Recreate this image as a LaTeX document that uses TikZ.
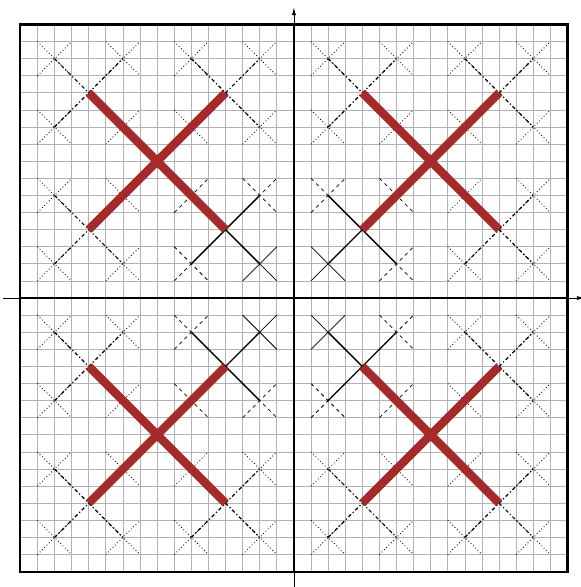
\documentclass[tikz,border=0pt]{standalone}
\usetikzlibrary{arrows.meta}
\definecolor{xred}{RGB}{165,42,42}
\newcommand\drawX[4]{%
  \draw[#4] (#1-#3,#2-#3) -- (#1+#3,#2+#3);
  \draw[#4] (#1-#3,#2+#3) -- (#1+#3,#2-#3);}
\begin{document}
\begin{tikzpicture}[x=0.5cm,y=0.5cm,
  gridline/.style={gray!60,line width=0.6pt},
  frameline/.style={black,line width=1.8pt},
  axisline/.style={black,line width=0.6pt,-{Latex[length=6.5pt,width=3.4pt]}},
  redx/.style={xred,line width=7pt},
  solidmid/.style={black,line width=1.1pt},
  solidthin/.style={black,line width=0.6pt},
  dashedthin/.style={black,line width=0.6pt,dashed},
  dashdotline/.style={black,line width=1pt,dash dot},
  dottedthin/.style={black,line width=0.7pt,dotted}]
\useasboundingbox (-17.19,-16.90) rectangle (16.78,17.43);
\draw[gridline,step=0.5cm] (-16,-16) grid (16,16);
\draw[axisline] (-17,0) -- (17,0);
\draw[axisline] (0,-17) -- (0,17);
\draw[frameline] (-16,-16) rectangle (16,16);
\draw[frameline] (-16,0) -- (16,0);
\draw[frameline] (0,-16) -- (0,16);
\foreach \sx in {-1,1}{\foreach \sy in {-1,1}{
  \foreach \a in {-1,1}{\foreach \b in {-1,1}{
    \pgfmathsetmacro\cx{8*\sx+4*\a}
    \pgfmathsetmacro\cy{8*\sy+4*\b}
    \pgfmathtruncatemacro\inner{(\a*\sx<0)*(\b*\sy<0)}
    \ifnum\inner=1
      \drawX{\cx}{\cy}{2}{solidmid}
      \foreach \c in {-1,1}{\foreach \d in {-1,1}{
        \pgfmathsetmacro\ex{\cx+2*\c}
        \pgfmathsetmacro\ey{\cy+2*\d}
        \pgfmathtruncatemacro\innerb{(\c*\sx<0)*(\d*\sy<0)}
        \ifnum\innerb=1
          \drawX{\ex}{\ey}{1}{solidthin}
        \else
          \drawX{\ex}{\ey}{1}{dashedthin}
        \fi
      }}
    \else
      \drawX{\cx}{\cy}{2}{dashdotline}
      \foreach \c in {-1,1}{\foreach \d in {-1,1}{
        \pgfmathsetmacro\ex{\cx+2*\c}
        \pgfmathsetmacro\ey{\cy+2*\d}
        \drawX{\ex}{\ey}{1}{dottedthin}
      }}
    \fi
  }}
}}
\foreach \sx in {-1,1}{\foreach \sy in {-1,1}{
  \drawX{8*\sx}{8*\sy}{4}{redx}
}}
\end{tikzpicture}
\end{document}
